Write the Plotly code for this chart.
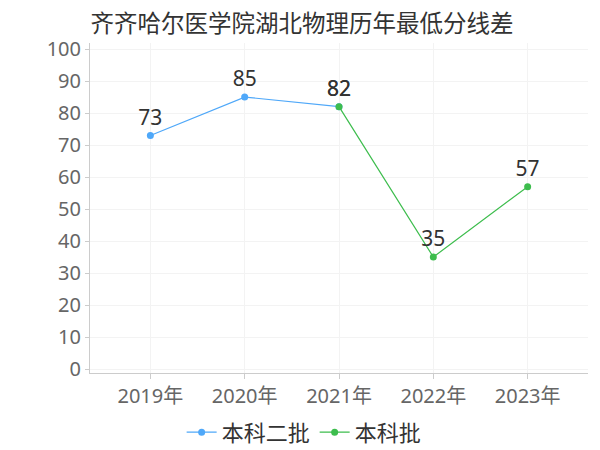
import plotly.graph_objects as go

years = ["2019年", "2020年", "2021年", "2022年", "2023年"]
series1_name = "本科二批"
series1_x = ["2019年", "2020年", "2021年"]
series1_y = [73, 85, 82]
series2_name = "本科批"
series2_x = ["2021年", "2022年", "2023年"]
series2_y = [82, 35, 57]
title = "齐齐哈尔医学院湖北物理历年最低分线差"

font_family = "Noto Sans, Noto Sans CJK SC, sans-serif"

fig = go.Figure()
fig.add_trace(go.Scatter(
    x=series1_x, y=series1_y, name=series1_name, mode="lines+markers+text",
    line=dict(color="#4fa8f9", width=1.2), marker=dict(size=7, color="#4fa8f9"),
    text=[str(v) for v in series1_y], textposition="top center",
    textfont=dict(size=21, color="#333333"), cliponaxis=False,
))
fig.add_trace(go.Scatter(
    x=series2_x, y=series2_y, name=series2_name, mode="lines+markers+text",
    line=dict(color="#3dbd4d", width=1.2), marker=dict(size=7, color="#3dbd4d"),
    text=[str(v) for v in series2_y], textposition="top center",
    textfont=dict(size=21, color="#333333"), cliponaxis=False,
))

# page body has an 8px margin, so figure coordinates are offset by 8px
fig.update_layout(
    width=600, height=450,
    margin=dict(l=82, r=20, t=35, b=85, autoexpand=False),
    paper_bgcolor="white", plot_bgcolor="white",
    font=dict(family=font_family),
    title=dict(text=title, x=0.49, xanchor="center", y=0.965, yanchor="middle",
               font=dict(size=23.5, color="#333333")),
    showlegend=True,
    legend=dict(orientation="h", x=0.43, xanchor="center", y=-0.18, yanchor="middle",
                font=dict(size=22, color="#333333"), itemwidth=30,
                tracegroupgap=0),
    xaxis=dict(
        type="category", categoryorder="array", categoryarray=years,
        tickvals=years, range=[-0.64, 4.64],
        showgrid=True, gridcolor="#f3f3f3",
        showline=True, linecolor="#cccccc", linewidth=1,
        ticks="outside", ticklen=5, tickcolor="#cccccc",
        tickfont=dict(size=20, color="#666666"),
        zeroline=False,
    ),
    yaxis=dict(
        range=[-1.25, 101.9], tickvals=list(range(0, 101, 10)),
        showgrid=True, gridcolor="#f3f3f3",
        showline=True, linecolor="#cccccc", linewidth=1,
        ticks="outside", ticklen=4, tickcolor="#cccccc",
        tickfont=dict(size=20, color="#666666"),
        zeroline=False,
    ),
)

fig.write_html("out.html")
